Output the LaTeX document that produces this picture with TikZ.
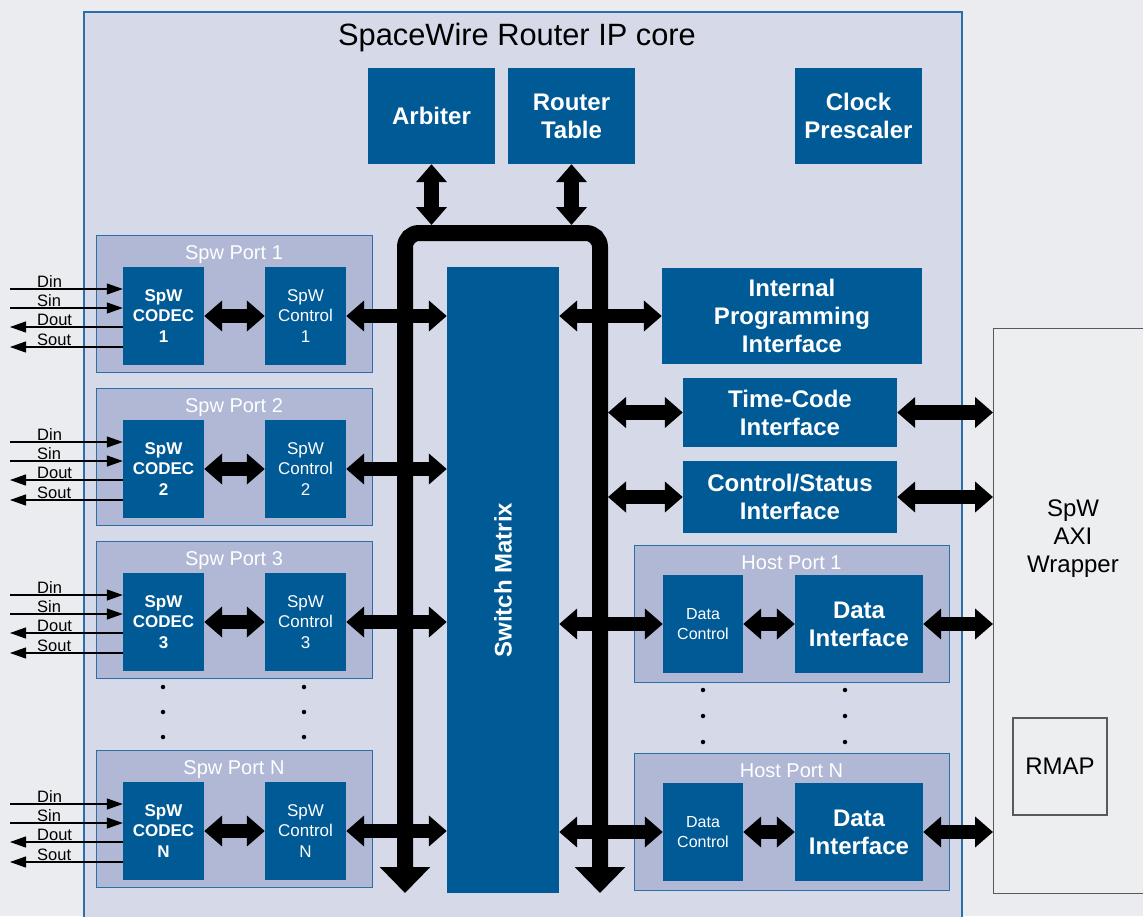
\documentclass[tikz,border=0pt]{standalone}
\usepackage{fontspec}
\setmainfont{Liberation Sans}
\usetikzlibrary{arrows.meta}
\definecolor{bgc}{HTML}{EBECEF}
\definecolor{corefill}{HTML}{D6D9E8}
\definecolor{portfill}{HTML}{B0B8D5}
\definecolor{dblue}{HTML}{005A96}
\definecolor{bordc}{HTML}{2A6EAA}
\definecolor{wrapfill}{HTML}{EDEEF0}
\definecolor{wrapbord}{HTML}{595959}
\newcommand\fblk{\fontsize{24}{28}\selectfont\bfseries}
\newcommand\fsmb{\fontsize{17}{20.5}\selectfont\bfseries}
\newcommand\fsmr{\fontsize{17}{20.5}\selectfont}
\newcommand\fdc{\fontsize{16}{20}\selectfont}
\newcommand\fptl{\fontsize{20}{24}\selectfont}
\newcommand\fsig{\fontsize{16.5}{20}\selectfont}
\newcommand\fwrap{\fontsize{24}{28}\selectfont}
\newcommand\fttl{\fontsize{30.8}{34}\selectfont}
\begin{document}
\begin{tikzpicture}[x=1pt,y=-1pt,
  blk/.style={fill=dblue,text=white,inner sep=0pt,align=center,font=\fblk},
  portbox/.style={fill=portfill,draw=bordc,line width=1.2pt,inner sep=0pt},
  ptitle/.style={text=white,font=\fptl,anchor=base,inner sep=0pt},
  fat/.style={line width=14.5pt,{Triangle[length=18pt,width=30pt]}-{Triangle[length=18pt,width=30pt]}},
  busline/.style={line width=16pt,rounded corners=14pt,{Triangle[length=26pt,width=49pt]}-{Triangle[length=26pt,width=49pt]}},
  sigin/.style={line width=1.1pt,-{Triangle[length=16pt,width=11pt]}},
  sigout/.style={line width=1.1pt,{Triangle[length=16pt,width=11pt]}-},
  siglab/.style={font=\fsig,anchor=base west,inner sep=0pt},
  dot/.style={circle,fill=black,inner sep=0pt,minimum size=4.5pt}]
\useasboundingbox (0,0) rectangle (1143,916);
\fill[bgc] (0,0) rectangle (1143,916);
% core
\node[fill=corefill,draw=bordc,line width=1.5pt,anchor=north west,minimum width=878pt,minimum height=930pt,inner sep=0pt] (core) at (83,11) {};
\node[font=\fttl,anchor=base,inner sep=0pt] (title) at (517,45) {SpaceWire Router IP core};
% top blocks
\node[blk,minimum width=127pt,minimum height=96pt] (arb) at (431.5,116) {Arbiter};
\node[blk,minimum width=127pt,minimum height=96pt] (rtab) at (571.5,116) {Router\\Table};
\node[blk,minimum width=127pt,minimum height=96pt] (clk) at (858.5,116) {Clock\\Prescaler};
% wrapper
\node[fill=wrapfill,draw=wrapbord,line width=1.2pt,anchor=north west,minimum width=170pt,minimum height=565pt,inner sep=0pt] (wrap) at (993,328) {};
\node[font=\fwrap,align=center,inner sep=0pt] (wraptxt) at (1073,539) {SpW\\AXI\\Wrapper};
\node[draw=wrapbord,line width=1.2pt,fill=wrapfill,minimum width=94pt,minimum height=97pt,inner sep=0pt,font=\fwrap] (rmap) at (1060,766.5) {RMAP};
% SpW ports
\foreach \i/\t in {1/235,2/388,3/541,N/750}{
  \node[portbox,anchor=north west,minimum width=276pt,minimum height=137pt] (port\i) at (96,\t) {};
  \node[ptitle] (pt\i) at (234,{\t+24}) {Spw Port \i};
  \node[blk,font=\fsmb,minimum width=81pt,minimum height=98pt] (codec\i) at (163.5,{\t+81}) {SpW\\CODEC\\\i};
  \node[blk,font=\fsmr,minimum width=81pt,minimum height=98pt] (ctrl\i) at (305.5,{\t+81}) {SpW\\Control\\\i};
  \coordinate (din\i) at (10,{\t+54});
  \coordinate (sin\i) at (10,{\t+73});
  \coordinate (dout\i) at (10,{\t+92});
  \coordinate (sout\i) at (10,{\t+112});
  \draw[sigin] (din\i) -- (din\i -| codec\i.west);
  \draw[sigin] (sin\i) -- (sin\i -| codec\i.west);
  \draw[sigout] (dout\i) -- (dout\i -| codec\i.west);
  \draw[sigout] (sout\i) -- (sout\i -| codec\i.west);
  \node[siglab] (ldin\i) at (37,{\t+52}) {Din};
  \node[siglab] (lsin\i) at (37,{\t+71}) {Sin};
  \node[siglab] (ldout\i) at (37,{\t+90}) {Dout};
  \node[siglab] (lsout\i) at (37,{\t+110}) {Sout};
  \draw[fat] (codec\i.east) -- (ctrl\i.west);
}
% host ports
\foreach \i/\t in {1/545,N/753}{
  \node[portbox,anchor=north west,minimum width=315pt,minimum height=137pt] (hport\i) at (634,\t) {};
  \node[ptitle] (hpt\i) at (791.5,{\t+24}) {Host Port \i};
  \node[blk,font=\fdc,minimum width=80pt,minimum height=98pt] (dc\i) at (703,{\t+79}) {Data\\Control};
  \node[blk,minimum width=128pt,minimum height=98pt] (di\i) at (859,{\t+79}) {Data\\Interface};
  \draw[fat] (dc\i.east) -- (di\i.west);
}
% interfaces
\node[blk,minimum width=260pt,minimum height=96pt] (ipi) at (792,316) {Internal\\Programming\\Interface};
\node[blk,minimum width=214pt,minimum height=69pt] (tci) at (790,412.5) {Time-Code\\Interface};
\node[blk,minimum width=214pt,minimum height=72pt] (csi) at (790,497) {Control/Status\\Interface};
% switch matrix
\node[blk,minimum width=112pt,minimum height=626pt] (sm) at (503,580) {};
\node[font=\fblk,text=white,rotate=90,inner sep=0pt] (smtxt) at (503,580) {Switch Matrix};
% bus
\coordinate (busLb) at (405,893);
\coordinate (busLt) at (405,233);
\coordinate (busRt) at (600,233);
\coordinate (busRb) at (600,893);
\coordinate (busTop) at (500,225);
\coordinate (busRedge) at (608,400);
\draw[busline] (busLb) -- (busLt) -- (busRt) -- (busRb);
\draw[fat] (arb.south) -- (arb.south |- busTop);
\draw[fat] (rtab.south) -- (rtab.south |- busTop);
% port to matrix
\foreach \i in {1,2,3,N}{
  \draw[fat] (ctrl\i.east) -- (ctrl\i.east -| sm.west);
}
\draw[fat] (sm.east |- ipi.west) -- (ipi.west);
\draw[fat] (busRedge |- tci.west) -- (tci.west);
\draw[fat] (busRedge |- csi.west) -- (csi.west);
\draw[fat] (tci.east) -- (tci.east -| wrap.west);
\draw[fat] (csi.east) -- (csi.east -| wrap.west);
\foreach \i in {1,N}{
  \draw[fat] (sm.east |- dc\i.west) -- (dc\i.west);
  \draw[fat] (di\i.east) -- (di\i.east -| wrap.west);
}
% dots
\foreach \x in {163,304}{
  \foreach \y in {687,712,737}{ \node[dot] at (\x,\y) {}; }
}
\foreach \x in {703,845}{
  \foreach \y in {690,716,742}{ \node[dot] at (\x,\y) {}; }
}
\end{tikzpicture}
\end{document}
